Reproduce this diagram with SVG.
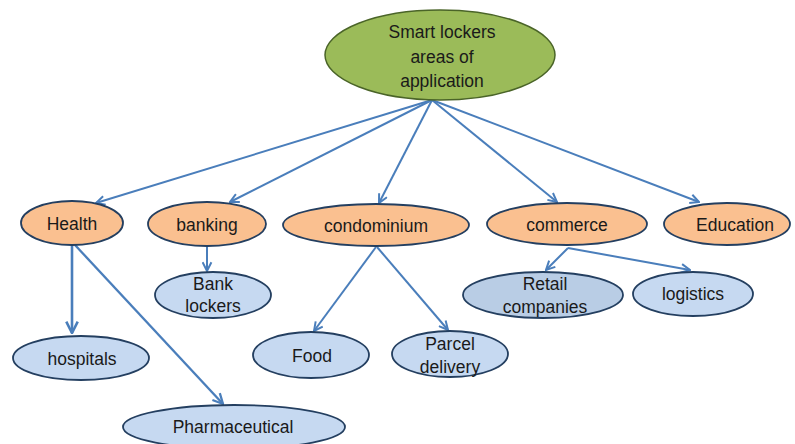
<svg xmlns="http://www.w3.org/2000/svg" width="795" height="444" viewBox="0 0 795 444">
<style>
text{font-family:"Liberation Sans",Arial,sans-serif;font-size:17.5px;fill:#1a1a1a;text-anchor:middle}
.root{fill:#9BBB59;stroke:#4A6428;stroke-width:1.5}
.cat{fill:#FAC090;stroke:#243F60;stroke-width:1.8}
.sub{fill:#C6D9F1;stroke:#243F60;stroke-width:1.8}
.sub2{fill:#B9CDE5;stroke:#243F60;stroke-width:1.8}
.c{stroke:#4A7EBB;stroke-width:2;fill:none;marker-end:url(#ah)}
</style>
<defs>
<marker id="ah" viewBox="0 0 10 10" refX="9" refY="5" markerWidth="5.5" markerHeight="5.5" orient="auto" markerUnits="strokeWidth">
<path d="M1,1 L9,5 L1,9" fill="none" stroke="#4A7EBB" stroke-width="1.8"/>
</marker>
</defs>
<rect width="795" height="444" fill="#fff"/>
<g id="connectors">
<line class="c" x1="432" y1="100" x2="96" y2="203"/>
<line class="c" x1="432" y1="100" x2="230" y2="202"/>
<line class="c" x1="432" y1="100" x2="379" y2="203"/>
<line class="c" x1="432" y1="100" x2="557" y2="202"/>
<line class="c" x1="432" y1="100" x2="699" y2="202"/>
<line class="c" x1="72" y1="245" x2="72" y2="333" style="stroke-width:2.6"/>
<line class="c" x1="75" y1="245" x2="223" y2="404" style="stroke-width:2.3"/>
<line class="c" x1="207" y1="247" x2="207" y2="271"/>
<line class="c" x1="376" y1="247" x2="314" y2="331"/>
<line class="c" x1="377" y1="247" x2="448" y2="330"/>
<line class="c" x1="568" y1="248" x2="546" y2="270"/>
<line class="c" x1="568" y1="248" x2="690" y2="270"/>
</g>
<g id="root">
<ellipse class="root" cx="440" cy="55" rx="115" ry="45"/>
<text x="442" y="38">Smart lockers</text>
<text x="442" y="63">areas of</text>
<text x="442" y="87">application</text>
</g>
<g id="health"><ellipse class="cat" cx="72" cy="223" rx="51" ry="22"/><text x="72" y="230">Health</text></g>
<g id="banking"><ellipse class="cat" cx="207" cy="224" rx="59" ry="22"/><text x="207" y="231">banking</text></g>
<g id="condominium"><ellipse class="cat" cx="376" cy="225" rx="93" ry="21"/><text x="376" y="232">condominium</text></g>
<g id="commerce"><ellipse class="cat" cx="567" cy="224" rx="80" ry="21"/><text x="567" y="231">commerce</text></g>
<g id="education"><ellipse class="cat" cx="727" cy="224" rx="63" ry="21"/><text x="735" y="231">Education</text></g>
<g id="bank-lockers"><ellipse class="sub" cx="213" cy="295" rx="58" ry="23"/><text x="213" y="290">Bank</text><text x="213" y="312">lockers</text></g>
<g id="retail"><ellipse class="sub2" cx="543" cy="295" rx="80" ry="23"/><text x="545" y="290">Retail</text><text x="545" y="313">companies</text></g>
<g id="logistics"><ellipse class="sub" cx="693" cy="294" rx="60" ry="22"/><text x="693" y="300">logistics</text></g>
<g id="hospitals"><ellipse class="sub" cx="81" cy="358" rx="68" ry="22"/><text x="82" y="365">hospitals</text></g>
<g id="food"><ellipse class="sub" cx="311" cy="355" rx="58" ry="23"/><text x="312" y="362">Food</text></g>
<g id="parcel"><ellipse class="sub" cx="450" cy="354" rx="58" ry="23"/><text x="450" y="350">Parcel</text><text x="450" y="373">delivery</text></g>
<g id="pharmaceutical"><ellipse class="sub" cx="234" cy="427" rx="111" ry="22"/><text x="233" y="433">Pharmaceutical</text></g>
</svg>
